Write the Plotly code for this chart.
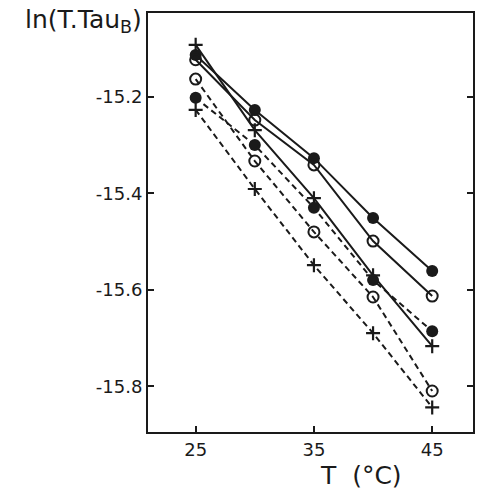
import plotly.graph_objects as go

T = [25, 30, 35, 40, 45]

# solid-line series
solid_filled = [-15.113, -15.227, -15.327, -15.451, -15.561]
solid_open = [-15.123, -15.248, -15.341, -15.499, -15.613]
solid_cross = [-15.092, -15.269, -15.410, -15.570, -15.717]

# dashed-line series
dashed_filled = [-15.202, -15.300, -15.430, -15.580, -15.686]
dashed_open = [-15.163, -15.333, -15.480, -15.615, -15.810]
dashed_cross = [-15.227, -15.391, -15.549, -15.690, -15.844]

x_ticks = [25, 35, 45]
y_ticks = [-15.2, -15.4, -15.6, -15.8]

INK = "#1a1a1a"

series = [
    (solid_filled, "solid", dict(symbol="circle", size=12, color=INK)),
    (solid_open, "solid", dict(symbol="circle-open", size=11, color=INK, line=dict(width=2, color=INK))),
    (solid_cross, "solid", dict(symbol="cross-thin-open", size=10, color=INK, line=dict(width=2.2, color=INK))),
    (dashed_filled, "dash", dict(symbol="circle", size=12, color=INK)),
    (dashed_open, "dash", dict(symbol="circle-open", size=11, color=INK, line=dict(width=2, color=INK))),
    (dashed_cross, "dash", dict(symbol="cross-thin-open", size=10, color=INK, line=dict(width=2.2, color=INK))),
]

fig = go.Figure()
for ys, dash, mk in series:
    fig.add_trace(go.Scatter(
        x=T, y=ys, mode="lines+markers",
        line=dict(color=INK, width=2, dash="6px,4px" if dash == "dash" else "solid"),
        marker=mk, showlegend=False,
    ))

fig.update_layout(
    width=479, height=497,
    margin=dict(l=148, r=4, t=13, b=65),
    paper_bgcolor="white", plot_bgcolor="white",
    font=dict(family="DejaVu Sans", color=INK, size=17),
)
fig.update_xaxes(
    range=[20.97, 48.45], tickvals=x_ticks, ticktext=[str(v) for v in x_ticks],
    showgrid=False, zeroline=False, showline=True, linecolor=INK, linewidth=2,
    mirror=True, ticks="inside", ticklen=6, tickwidth=1.5, tickcolor=INK,
    tickfont=dict(size=18),
)
fig.update_yaxes(
    range=[-15.895, -15.026], tickvals=y_ticks, ticktext=[f"{v:.1f}" for v in y_ticks],
    showgrid=False, zeroline=False, showline=True, linecolor=INK, linewidth=2,
    mirror="ticks", ticks="inside", ticklen=6, tickwidth=1.5, tickcolor=INK,
    tickfont=dict(size=18),
)
fig.add_annotation(
    text="ln(T.Tau<sub>B</sub>)", xref="paper", yref="paper",
    x=-0.012, y=1.0, xanchor="right", yanchor="top", yshift=10, showarrow=False,
    font=dict(size=25, color=INK),
)
fig.add_annotation(
    text="T  (°C)", xref="paper", yref="paper",
    x=0.655, y=-0.065, xanchor="center", yanchor="top", showarrow=False,
    font=dict(size=25, color=INK),
)

fig.write_html("out.html")
